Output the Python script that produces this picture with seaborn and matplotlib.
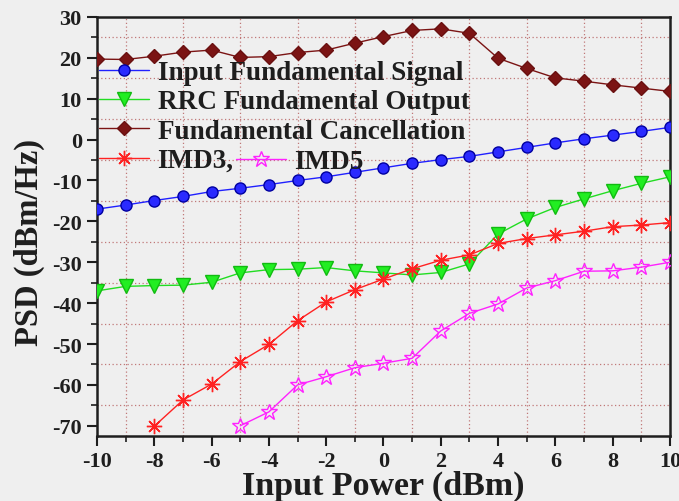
import matplotlib
matplotlib.use("Agg")
import matplotlib.pyplot as plt
import seaborn as sns
import pandas as pd
from matplotlib.ticker import MultipleLocator
from matplotlib.lines import Line2D

# ---------------- data ----------------
x_power = list(range(-10, 11))
input_fundamental = [-17.0, -16.0, -14.9, -13.9, -12.7, -11.9, -11.0, -10.0, -9.1, -8.0,
                     -6.9, -5.8, -4.9, -4.1, -3.0, -1.9, -0.8, 0.2, 1.1, 2.0, 3.0]
rrc_output = [-37.0, -35.9, -35.7, -35.6, -34.9, -32.6, -31.8, -31.7, -31.3, -32.1,
              -32.6, -33.1, -32.5, -30.4, -23.1, -19.4, -16.6, -14.5, -12.5, -10.7, -9.1]
fund_cancel = [19.7, 19.6, 20.4, 21.4, 21.9, 20.1, 20.3, 21.3, 21.9, 23.6,
               25.2, 26.7, 27.1, 26.0, 19.9, 17.4, 15.1, 14.3, 13.4, 12.6, 11.8]
x_imd3 = list(range(-8, 11))
imd3 = [-70.1, -63.7, -59.8, -54.3, -50.1, -44.3, -39.7, -36.7, -34.1, -31.6,
        -29.5, -28.2, -25.4, -24.2, -23.3, -22.4, -21.3, -20.9, -20.3]
x_imd5 = list(range(-5, 11))
imd5 = [-70.0, -66.6, -60.0, -58.0, -55.8, -54.7, -53.5, -46.8, -42.5, -40.2,
        -36.3, -34.5, -32.2, -32.1, -31.2, -30.0]

labels = ["Input Fundamental Signal", "RRC Fundamental Output",
          "Fundamental Cancellation", "IMD3,", "IMD5"]

df_main = pd.DataFrame({"x": x_power, "inp": input_fundamental,
                        "rrc": rrc_output, "fc": fund_cancel})
df_imd3 = pd.DataFrame({"x": x_imd3, "y": imd3})
df_imd5 = pd.DataFrame({"x": x_imd5, "y": imd5})

# ---------------- style ----------------
sns.set_style("ticks")
plt.rcParams["font.family"] = ["Liberation Serif", "DejaVu Serif"]
plt.rcParams["font.weight"] = "bold"
plt.rcParams["axes.labelweight"] = "bold"
plt.rcParams["axes.unicode_minus"] = False

bg = "#efefef"
dark = "#1e1e1e"
fig = plt.figure(figsize=(6.79, 5.02), dpi=100, facecolor=bg)
ax = fig.add_axes([0.1429, 0.1295, 0.8438, 0.8347])
ax.set_facecolor(bg)

styles = [
    dict(color="#2020ff", marker="o", markersize=8, mec="#0000a0", mfc="#2a2aff", mew=1),
    dict(color="#22dd22", marker="v", markersize=10, mec="#11bb11", mfc="#22ee22", mew=1),
    dict(color="#7b1414", marker="D", markersize=7.5, mec="#6a1010", mfc="#7b1414", mew=1),
    dict(color="#ff2222", marker=(8, 2, 0), markersize=11, mec="#ff2222", mfc="none", mew=1.0),
    dict(color="#ff22ff", marker="*", markersize=12, mec="#ff22ff", mfc="none", mew=1.0),
]

sns.lineplot(data=df_main, x="x", y="inp", ax=ax, lw=1, zorder=5, **styles[0])
sns.lineplot(data=df_main, x="x", y="rrc", ax=ax, lw=1, zorder=5, **styles[1])
sns.lineplot(data=df_main, x="x", y="fc", ax=ax, lw=1, zorder=5, **styles[2])
sns.lineplot(data=df_imd3, x="x", y="y", ax=ax, lw=1, zorder=5, **styles[3])
sns.lineplot(data=df_imd5, x="x", y="y", ax=ax, lw=1, zorder=5, **styles[4])

ax.set_xlim(-10, 10)
ax.set_ylim(-72.5, 30)
ax.xaxis.set_major_locator(MultipleLocator(2))
ax.xaxis.set_minor_locator(MultipleLocator(1))
ax.yaxis.set_major_locator(MultipleLocator(10))
ax.yaxis.set_minor_locator(MultipleLocator(5))

ax.grid(False)
for xv in range(-9, 10, 2):
    ax.axvline(xv, color="#c07878", ls=(0, (1, 2)), lw=0.9, zorder=1)
for yv in [25, 15, 5, -5, -15, -25, -35, -45, -55, -65]:
    ax.axhline(yv, color="#c07878", ls=(0, (1, 2)), lw=0.9, zorder=1)

ax.tick_params(axis="both", which="major", direction="out", length=7, width=1.5,
               labelsize=16, pad=4, colors=dark)
ax.tick_params(axis="both", which="minor", direction="out", length=4, width=1.2, colors=dark)
ax.tick_params(top=False, right=False)
for lab in ax.get_xticklabels() + ax.get_yticklabels():
    lab.set_fontweight("bold")
for s in ax.spines.values():
    s.set_linewidth(1.8)
    s.set_color(dark)

ax.set_xlabel("Input Power (dBm)", fontsize=24.5, fontweight="bold", labelpad=-1, color=dark)
ax.set_ylabel("PSD (dBm/Hz)", fontsize=23.5, fontweight="bold", labelpad=5, color=dark)
ax.yaxis.label.set_y(0.465)

def handle(i):
    st = styles[i]
    return Line2D([], [], color=st["color"], lw=1, marker=st["marker"],
                  markersize=st["markersize"], markeredgecolor=st["mec"],
                  markerfacecolor=st["mfc"], markeredgewidth=st["mew"])

fs = 19.5
top = 0.897
leg1 = ax.legend([handle(i) for i in range(4)], labels[:4], loc="upper left",
                 bbox_to_anchor=(0.004, top), frameon=False,
                 handlelength=1.85, handletextpad=0.3, labelspacing=0.16,
                 borderaxespad=0, borderpad=0,
                 prop={"family": "Liberation Serif", "weight": "bold", "size": fs})
for t in leg1.get_texts():
    t.set_color(dark)
ax.add_artist(leg1)
leg2 = ax.legend([handle(4)], labels[4:], loc="upper left",
                 bbox_to_anchor=(0.243, top - 3 * 0.0708), frameon=False,
                 handlelength=1.85, handletextpad=0.3, borderaxespad=0, borderpad=0,
                 prop={"family": "Liberation Serif", "weight": "bold", "size": fs})
for t in leg2.get_texts():
    t.set_color(dark)

fig.savefig("out.png", dpi=100, facecolor=bg)
